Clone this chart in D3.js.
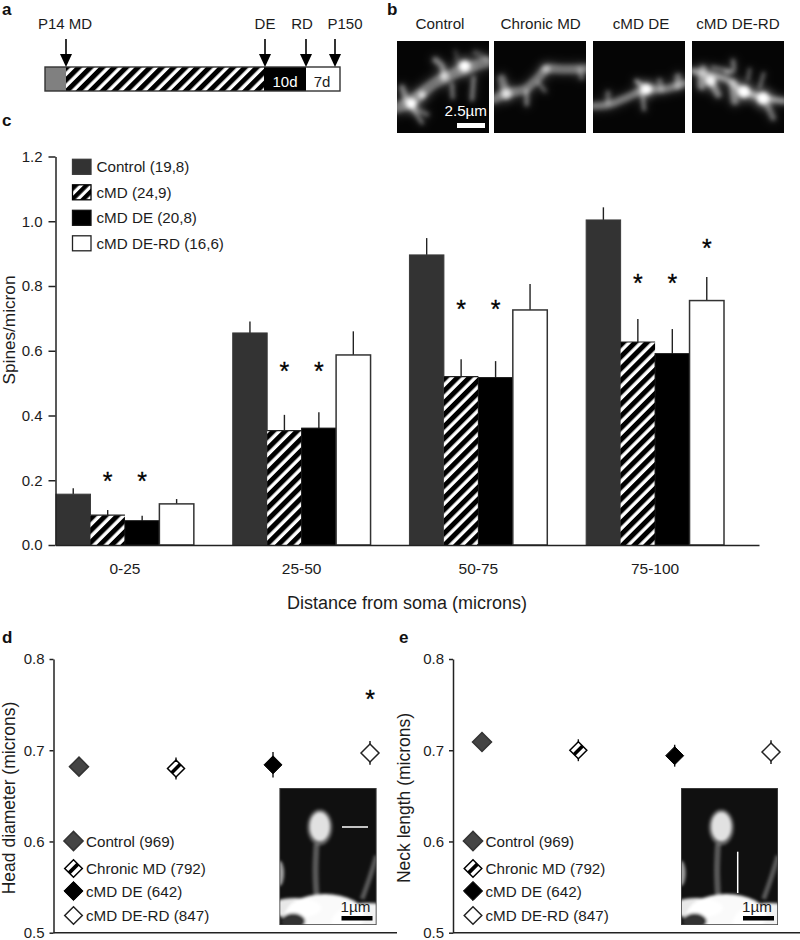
<!DOCTYPE html>
<html><head><meta charset="utf-8">
<script src="https://d3js.org/d3.v7.min.js"></script>
<style>
html,body{margin:0;padding:0;background:#fff}
svg{display:block}
text{font-family:"Liberation Sans",Arial,sans-serif;fill:#1c1c1c}
.bold{font-weight:700;fill:#111}
</style></head><body><svg id="chart" width="800" height="940"></svg>
<script>
// ---------- data ----------
const distanceBins = ["0-25","25-50","50-75","75-100"];
const barSeries = ["Control (19,8)","cMD (24,9)","cMD DE (20,8)","cMD DE-RD (16,6)"];
const controlBars = [0.157,0.655,0.896,1.004];
const cmdBars     = [0.092,0.353,0.520,0.627];
const deBars      = [0.075,0.361,0.517,0.591];
const rdBars      = [0.127,0.587,0.726,0.755];
const controlTops = [0.175,0.690,0.948,1.043];
const cmdTops     = [0.108,0.402,0.574,0.698];
const deTops      = [0.090,0.410,0.568,0.667];
const rdTops      = [0.142,0.660,0.806,0.828];
const barStars = [[0,1,0.200],[0,2,0.200],[1,1,0.540],[1,2,0.540],[2,1,0.732],[2,2,0.732],[3,1,0.812],[3,2,0.812],[3,3,0.922]];
const barTicks = [0,0.2,0.4,0.6,0.8,1.0,1.2];
const pointGroups = ["Control (969)","Chronic MD (792)","cMD DE (642)","cMD DE-RD (847)"];
const headValues = [0.682,0.680,0.684,0.697];
const headErrors = [0.009,0.012,0.014,0.013];
const neckValues = [0.709,0.700,0.694,0.698];
const neckErrors = [0.009,0.012,0.012,0.013];
const pointTicks = [0.5,0.6,0.7,0.8];
const photoTitles = ["Control","Chronic MD","cMD DE","cMD DE-RD"];
const timelineMarks = ["P14 MD","DE","RD","P150"];
const timelineDays = [14,133,143,150];

// ---------- setup ----------
const svg = d3.select("#chart");
const INK = "#222";
const defs = svg.append("defs");
function hatch(id,step,black){
  const p = defs.append("pattern").attr("id",id).attr("patternUnits","userSpaceOnUse")
    .attr("width",step).attr("height",step).attr("patternTransform","rotate(45)");
  p.append("rect").attr("width",step).attr("height",step).attr("fill","#fff");
  p.append("rect").attr("width",black).attr("height",step).attr("fill","#000");
}
hatch("h1",8.4,5.0);
hatch("hLeg",7.6,4.4);
const blur = (id,s)=>defs.append("filter").attr("id",id).attr("filterUnits","userSpaceOnUse").attr("x",0).attr("y",0).attr("width",800).attr("height",940)
  .append("feGaussianBlur").attr("stdDeviation",s);
blur("b1",2.0); blur("b2",1.6); blur("b3",4.5);
const txt=(x,y,s,size,anchor,cls)=>svg.append("text").attr("x",x).attr("y",y).attr("font-size",size)
  .attr("text-anchor",anchor||"start").attr("dominant-baseline","central").attr("class",cls||null).text(s);
[["a",2,9],["b",387,9],["c",2,120],["d",2,637],["e",399,637]].forEach(d=>txt(d[1],d[2],d[0],17,"start","bold"));

// ---------- panel a ----------
const tl = svg.append("g");
const tx = d3.scaleLinear().domain([14,133]).range([66,265]);
const tlX = [tx(timelineDays[0]),tx(timelineDays[1]),306,335];
const tlLab = [65,265,302,345];
[[45,66,"#808080"],[66,264,"url(#h1)"],[264,306,"#000"],[306,340,"#fff"]].forEach(s=>
  tl.append("rect").attr("x",s[0]).attr("y",67).attr("width",s[1]-s[0]).attr("height",24).attr("fill",s[2]));
tl.append("rect").attr("x",45).attr("y",67).attr("width",295).attr("height",24).attr("fill","none").attr("stroke","#333").attr("stroke-width",1.4);
timelineMarks.forEach((m,i)=>{
  txt(tlLab[i],23,m,15,"middle");
  tl.append("line").attr("x1",tlX[i]).attr("x2",tlX[i]).attr("y1",39).attr("y2",56).attr("stroke","#000").attr("stroke-width",1.6);
  tl.append("path").attr("d",d3.line()([[tlX[i]-6,54],[tlX[i]+6,54],[tlX[i],67]])+"Z").attr("fill","#000");
});
txt(285,81,"10d",15,"middle").style("fill","#fff");
txt(322,81,"7d",15,"middle");

// ---------- micrographs ----------
// decorative strokes in zoomed-crop pixels; each photo is 92px wide
const photos = [
 {x:397,ox:15,ot:15,lines:[
  [[[15,215],[60,195],[90,170],[130,140],[160,125],[215,100],[285,78]],11,.36],
  [[[130,72],[150,90],[155,120]],6,.42],[[[180,145],[182,185]],3.6,.42],[[[245,125],[240,190]],3.8,.45],
  [[[30,155],[45,195]],6,.4],[[[60,215],[90,260]],3.8,.38],[[[250,50],[285,70]],6,.2],[[[190,45],[200,90]],4,.16],[[[70,220],[105,235]],5,.3]],
  blobs:[[58,203,5,1],[90,177,3.8,.7],[158,122,4.5,.45],[218,90,5.5,1]]},
 {x:494,ox:307,ot:15,lines:[
  [[[307,190],[345,172],[400,160],[440,125],[465,100],[520,100],[583,98]],9,.36],
  [[[330,128],[342,170]],8,.36],[[[405,165],[405,205]],4.4,.4],[[[565,100],[570,125]],5,.3],[[[440,140],[460,165]],4,.3]],
  blobs:[[345,175,4.8,.6],[463,98,4,.45]]},
 {x:593,ox:10,ot:15,lines:[
  [[[10,210],[60,205],[110,185],[170,160],[220,160],[285,142]],7.5,.38],
  [[[140,135],[170,160]],4,.55],[[[158,165],[163,220]],3.8,.42],[[[55,170],[55,200]],5,.3],[[[265,122],[265,150]],7,.36],[[[210,135],[215,160]],6,.3]],
  blobs:[[170,160,5,1],[170,160,3.5,1]]},
 {x:692,ox:307,ot:15,lines:[
  [[[310,105],[350,115],[410,130],[460,165],[520,185],[583,195]],6.5,.48],
  [[[340,100],[335,150]],8,.42],[[[360,130],[385,175]],7,.42],[[[430,75],[430,105],[410,108]],4.4,.38],[[[480,100],[475,130]],3.2,.34],
  [[[522,112],[510,155]],2.8,.42],[[[430,140],[435,195]],8,.38],[[[525,190],[550,245]],6,.34],[[[370,95],[415,105]],5,.3]],
  blobs:[[363,135,5,.85],[463,167,6,1],[520,187,6,1]]}
];
photos.forEach((p,i)=>{
  const id="pc"+i;
  defs.append("clipPath").attr("id",id).append("rect").attr("x",p.x).attr("y",41).attr("width",92).attr("height",92);
  const g=svg.append("g").attr("clip-path",`url(#${id})`);
  g.append("rect").attr("x",p.x).attr("y",41).attr("width",92).attr("height",92).attr("fill","#050505");
  const map=q=>[p.x+(q[0]-p.ox)/3,41+(q[1]-p.ot)/3];
  const ln=d3.line().curve(d3.curveCatmullRom);
  [["url(#b3)",1.7,.35],["url(#b1)",1,1]].forEach(L=>{
    const f=g.append("g").attr("filter",L[0]);
    p.lines.forEach(l=>f.append("path").attr("d",ln(l[0].map(map))).attr("fill","none").attr("stroke","#fff")
      .attr("stroke-opacity",l[2]*L[2]).attr("stroke-width",l[1]*L[1]).attr("stroke-linecap","round"));
    p.blobs.forEach(b=>{const c=map(b);f.append("circle").attr("cx",c[0]).attr("cy",c[1]).attr("r",b[2]*L[1]).attr("fill","#fff").attr("fill-opacity",b[3]*L[2]);});
  });
  txt([440,540.7,641,738][i],23,photoTitles[i],15.2,"middle");
});
txt(487,110,"2.5µm",15.2,"end").style("fill","#fff");
svg.append("rect").attr("x",457).attr("y",123).attr("width",28).attr("height",5).attr("fill","#fff");

// ---------- panel c ----------
const yBar = d3.scaleLinear().domain([0,1.2]).range([545,156.5]);
const xBin = d3.scaleBand().domain(distanceBins).range([56,724]).paddingInner(0.22).paddingOuter(0).align(0);
const xSer = d3.scaleBand().domain(barSeries).range([0,xBin.bandwidth()]);
const barVals=[controlBars,cmdBars,deBars,rdBars], barErr=[controlTops,cmdTops,deTops,rdTops];
const fills=["#333","url(#h1)","#000","#fff"];
const strokes=["#3a3a3a",null,"#111","#333"];
const cg=svg.append("g");
barSeries.forEach((s,si)=>{
  const g=cg.append("g");
  distanceBins.forEach((b,bi)=>{
    const cx=xBin(b)+xSer(s)+xSer.bandwidth()/2, v=barVals[si][bi];
    g.append("line").attr("x1",cx).attr("x2",cx).attr("y1",yBar(v)).attr("y2",yBar(barErr[si][bi])).attr("stroke",INK).attr("stroke-width",1.4);
    g.append("rect").attr("x",xBin(b)+xSer(s)).attr("y",yBar(v)).attr("width",xSer.bandwidth()).attr("height",yBar(0)-yBar(v))
      .attr("fill",fills[si]).attr("stroke",strokes[si]||"none").attr("stroke-width",si==3?1.5:1);
    if(si==1) g.append("line").attr("x1",xBin(b)+xSer(s)).attr("x2",xBin(b)+xSer(s)+xSer.bandwidth()).attr("y1",yBar(v)).attr("y2",yBar(v)).attr("stroke","#222").attr("stroke-width",1.2);
  });
});
barStars.forEach(d=>{
  const x=xBin(distanceBins[d[0]])+xSer(barSeries[d[1]])+xSer.bandwidth()/2;
  svg.append("text").attr("x",x).attr("y",yBar(d[2])+10).attr("font-size",25).attr("text-anchor","middle").text("*").style("fill","#000").style("stroke","#000").style("stroke-width",.3);
});
function styleAxis(g,size){
  g.selectAll("path,line").attr("stroke",INK).attr("stroke-width",1.5);
  g.selectAll("text").attr("font-size",size).style("fill","#1c1c1c").style("font-family",'"Liberation Sans",Arial,sans-serif');
}
const ay=svg.append("g").attr("transform","translate(55.5,0)")
  .call(d3.axisLeft(yBar).tickValues(barTicks).tickFormat(d3.format(".1f")).tickSize(7).tickPadding(6).tickSizeOuter(0));
styleAxis(ay,15);
const ax=svg.append("g").attr("transform","translate(0,545)")
  .call(d3.axisBottom(d3.scaleLinear().range([55.5,759])).tickValues([]).tickSizeOuter(0));
styleAxis(ax,14);
distanceBins.forEach(b=>txt(xBin(b)+xBin.bandwidth()/2,568,b,15.5,"middle"));
txt(407,603,"Distance from soma (microns)",18,"middle");
svg.append("text").attr("transform","translate(9,330) rotate(-90)").attr("text-anchor","middle").attr("dominant-baseline","central").attr("font-size",17.2).text("Spines/micron");
const legY=d3.scaleBand().domain(barSeries).range([156,258]);
barSeries.forEach((s,i)=>{
  const y=legY(s)+3.3;
  svg.append("rect").attr("x",72.5).attr("y",y).attr("width",18.5).attr("height",15).attr("fill",i==1?"url(#hLeg)":fills[i]).attr("stroke",i==3?"#222":(i==1?"#000":strokes[i])).attr("stroke-width",1.3);
  txt(96.5,y+7.5,s,15.2);
});

// ---------- panels d / e ----------
function diamond(g,cx,cy,kind,r){
  const pts=[[cx-r,cy],[cx,cy-r],[cx+r,cy],[cx,cy+r]];
  const P=d3.line()(pts)+"Z";
  const f=["#444","#fff","#000","#fff"][kind], st=["#333","#000","#000","#222"][kind];
  g.append("path").attr("d",P).attr("fill",f).attr("stroke",st).attr("stroke-width",kind==2?1:1.5).attr("stroke-linejoin","miter");
  if(kind==1) g.append("line").attr("x1",cx-r/2).attr("y1",cy+r/2).attr("x2",cx+r/2).attr("y2",cy-r/2).attr("stroke","#000").attr("stroke-width",r*0.42);
}
function pointPanel(x0,x1,xPts,vals,errs,title,titleX,starIdx,inset){
  const y=d3.scaleLinear().domain([0.5,0.8]).range([932.7,659]);
  const x=d3.scalePoint().domain(pointGroups).range(xPts);
  const a=svg.append("g").attr("transform",`translate(${x0},0)`)
    .call(d3.axisLeft(y).tickValues(pointTicks).tickFormat(d3.format(".1f")).tickSize(4).tickPadding(5).tickSizeOuter(0));
  styleAxis(a,15);
  svg.append("line").attr("x1",x0).attr("x2",x1).attr("y1",932.7).attr("y2",932.7).attr("stroke",INK).attr("stroke-width",1.5);
  svg.append("text").attr("transform",`translate(${titleX},798) rotate(-90)`).attr("text-anchor","middle").attr("dominant-baseline","central").attr("font-size",17.5).text(title);
  const g=svg.append("g");
  pointGroups.forEach((p,i)=>{
    g.append("line").attr("x1",x(p)).attr("x2",x(p)).attr("y1",y(vals[i]-errs[i])).attr("y2",y(vals[i]+errs[i])).attr("stroke","#111").attr("stroke-width",1.4);
    diamond(g,x(p),y(vals[i]),i,i==0?9.5:(i==1?8.5:9));
  });
  if(starIdx!=null) svg.append("text").attr("x",x(pointGroups[starIdx])).attr("y",y(0.757)+10).attr("font-size",25).attr("text-anchor","middle").text("*").style("fill","#000").style("stroke","#000").style("stroke-width",.3);
  const lx=x0+19.5;
  [840,867.5,890,914.5].forEach((ly,i)=>{
    diamond(svg.append("g"),lx+0.5,ly+1,i,i==1||i==3?8.8:9.6);
    txt(x0+32.5,ly+1,pointGroups[i],15.2);
  });
  // inset photo
  const id="ins"+x0, W=97, H=137, top=788, L=inset.x;
  defs.append("clipPath").attr("id",id).append("rect").attr("x",L).attr("y",top).attr("width",W).attr("height",H);
  const ig=svg.append("g").attr("clip-path",`url(#${id})`);
  ig.append("rect").attr("x",L).attr("y",top).attr("width",W).attr("height",H).attr("fill","#101010");
  const m=q=>[L+(q[0]-14)/3,top+(q[1]-12)/3];
  const ln=d3.line().curve(d3.curveCatmullRom);
  const f=ig.append("g").attr("filter","url(#b2)");
  const e=(cx,cy,rx,ry,c,o)=>{const q=m([cx,cy]);f.append("ellipse").attr("cx",q[0]).attr("cy",q[1]).attr("rx",rx/3).attr("ry",ry/3).attr("fill",c).attr("fill-opacity",o);};
  [[[[125,180],[122,260],[125,335]],6,.3],[[[305,215],[285,280],[262,345]],5,.3]].forEach(l=>
    f.append("path").attr("d",ln(l[0].map(m))).attr("fill","none").attr("stroke","#fff").attr("stroke-opacity",l[2]).attr("stroke-width",l[1]));
  e(135,130,38,54,"#fff",.35); e(135,128,30,44,"#eee",.9); e(14,268,14,38,"#fff",.6);
  e(60,372,80,30,"#fff",.9); e(150,395,120,65,"#fff",.98); e(280,415,110,58,"#fff",.95); e(55,412,36,24,"#333",1);
  ig.append("rect").attr("x",L).attr("y",top).attr("width",W).attr("height",H).attr("fill","none").attr("stroke","#444").attr("stroke-width",1.6);
  svg.append("line").attr("x1",inset.line[0]).attr("y1",inset.line[1]).attr("x2",inset.line[2]).attr("y2",inset.line[3]).attr("stroke","#fff").attr("stroke-width",1.5);
  txt(L+76,906,"1µm",15.2,"middle");
  svg.append("rect").attr("x",L+62).attr("y",916).attr("width",31).attr("height",4.5).attr("fill","#000");
}
pointPanel(53.5,397,[79,370],headValues,headErrors,"Head diameter (microns)",9,3,{x:279.5,line:[342,827,368,827]});
pointPanel(453,800,[482,771],neckValues,neckErrors,"Neck length (microns)",404,null,{x:681,line:[737.7,851.7,737.7,893]});
</script></body></html>
